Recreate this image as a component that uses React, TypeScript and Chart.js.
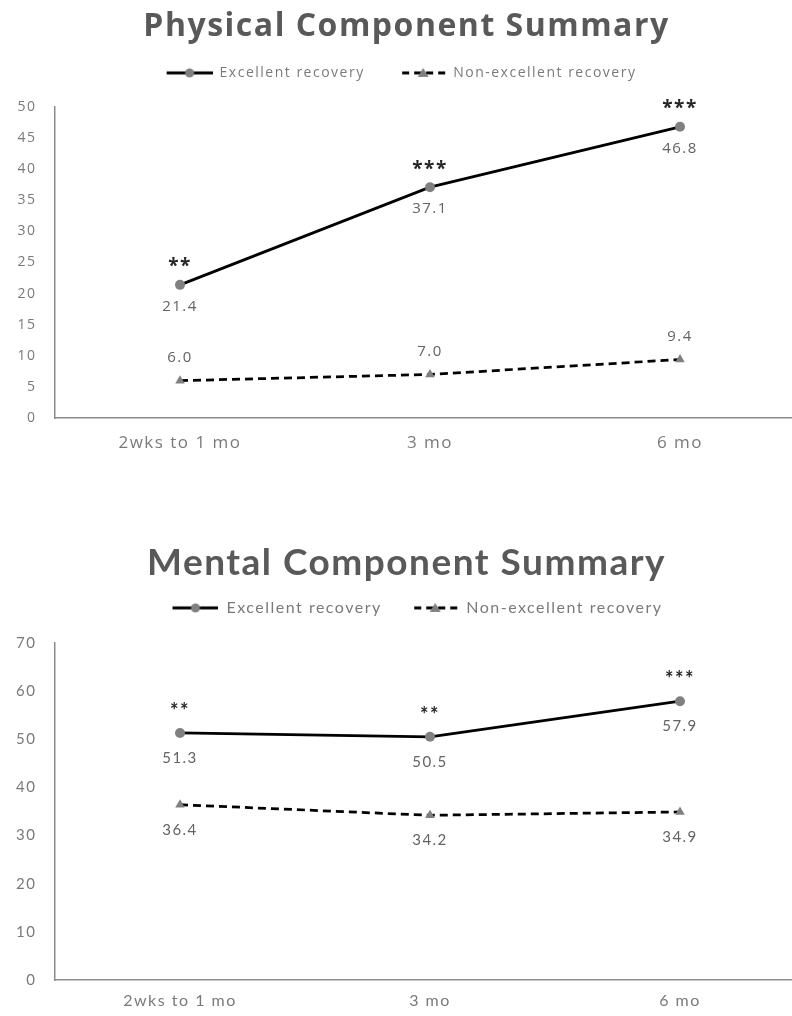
import React, { useEffect, useRef } from "react";
import { Chart, registerables } from "chart.js";

Chart.register(...registerables);

// Time points shared by both panels
const timePoints = ["2wks to 1 mo", "3 mo", "6 mo"];

// Physical Component Summary
const physicalExcellent = [21.4, 37.1, 46.8];
const physicalNonExcellent = [6.0, 7.0, 9.4];
const physicalStars = ["**", "***", "***"];
const physicalTicks = [0, 5, 10, 15, 20, 25, 30, 35, 40, 45, 50];

// Mental Component Summary
const mentalExcellent = [51.3, 50.5, 57.9];
const mentalNonExcellent = [36.4, 34.2, 34.9];
const mentalStars = ["**", "**", "***"];
const mentalTicks = [0, 10, 20, 30, 40, 50, 60, 70];

const seriesNames = ["Excellent recovery", "Non-excellent recovery"];

const MARKER_GRAY = "#808080";
const TITLE_GRAY = "#595959";
const AXIS_TEXT = "#7a7a7a";
const VALUE_TEXT = "#636363";

const SWATCH_MARGIN = 16;
const SWATCH_LINE = 46;

// Legend swatch: a short line with the series marker in the middle
function makeSwatch(dashed: boolean, triangle: boolean): HTMLCanvasElement {
  const c = document.createElement("canvas");
  c.width = SWATCH_MARGIN + SWATCH_LINE;
  c.height = 12;
  const ctx = c.getContext("2d")!;
  const x0 = SWATCH_MARGIN;
  const mid = x0 + SWATCH_LINE / 2;
  ctx.strokeStyle = "#000";
  ctx.lineWidth = 3;
  ctx.setLineDash(dashed ? [7, 5] : []);
  ctx.beginPath();
  ctx.moveTo(x0 + (dashed ? 2 : 0), 6);
  ctx.lineTo(x0 + SWATCH_LINE, 6);
  ctx.stroke();
  ctx.setLineDash([]);
  ctx.fillStyle = MARKER_GRAY;
  ctx.beginPath();
  if (triangle) {
    ctx.moveTo(mid, 1);
    ctx.lineTo(mid + 5.5, 10);
    ctx.lineTo(mid - 5.5, 10);
    ctx.closePath();
  } else {
    ctx.arc(mid, 6, 4.5, 0, Math.PI * 2);
  }
  ctx.fill();
  return c;
}

// Wide lettering for every text drawn on the canvas, extra room under the legend,
// and a small horizontal nudge of the legend row
const textStyle = {
  id: "textStyle",
  beforeLayout(chart: any, _args: any, opts: any) {
    chart.ctx.letterSpacing = `${opts.spacing}px`;
    const lg = chart.legend;
    if (lg && !lg._gapPatched) {
      const fit = lg.fit;
      lg.fit = function () {
        fit.call(this);
        this.height += opts.legendGap;
      };
      lg._gapPatched = true;
    }
  },
  afterLayout(chart: any, _args: any, opts: any) {
    const lg = chart.legend;
    if (lg) {
      lg.left += opts.legendShift;
      lg.right += opts.legendShift;
    }
  },
  beforeDraw(chart: any, _args: any, opts: any) {
    chart.ctx.letterSpacing = `${opts.spacing}px`;
  },
};

// Value labels beside each point, plus significance stars above the first series
const pointNotes = {
  id: "pointNotes",
  afterDatasetsDraw(chart: any, _args: any, opts: any) {
    const ctx = chart.ctx;
    ctx.save();
    ctx.textAlign = "center";
    chart.data.datasets.forEach((ds: any, i: number) => {
      const meta = chart.getDatasetMeta(i);
      const side = opts.sides[i];
      meta.data.forEach((pt: any, j: number) => {
        const v = ds.data[j];
        ctx.font = `${opts.valueSize}px ${opts.family}`;
        ctx.fillStyle = VALUE_TEXT;
        ctx.textBaseline = "middle";
        const dy = side === "below" ? opts.belowGap : -opts.aboveGap;
        ctx.fillText(v.toFixed(1), pt.x, pt.y + dy);
        if (i === 0 && opts.stars[j]) {
          ctx.font = `bold ${opts.starSize}px ${opts.family}`;
          ctx.fillStyle = "#262626";
          ctx.textBaseline = "alphabetic";
          ctx.fillText(opts.stars[j], pt.x, pt.y - opts.starGap);
        }
      });
    });
    ctx.restore();
  },
};

type PanelProps = {
  title: string;
  excellent: number[];
  nonExcellent: number[];
  stars: string[];
  ticks: number[];
  sides: string[];
  family: string;
  height: number;
  top: number;
  titleSize: number;
  titleTop: number;
  legendSize: number;
  legendPad: number;
  legendGap: number;
  legendShift: number;
  yTickSize: number;
  xTickSize: number;
  xTickPad: number;
  xAxisHeight: number;
  valueSize: number;
  starSize: number;
  starGap: number;
  belowGap: number;
  aboveGap: number;
};

function Panel(p: PanelProps) {
  const ref = useRef<HTMLCanvasElement | null>(null);
  useEffect(() => {
    const swatches = [makeSwatch(false, false), makeSwatch(true, true)];
    const chart = new Chart(ref.current!, {
      type: "line",
      data: {
        labels: timePoints,
        datasets: [
          {
            label: seriesNames[0],
            data: p.excellent,
            borderColor: "#000",
            borderWidth: 2.75,
            pointStyle: "circle",
            pointRadius: 5,
            pointBackgroundColor: MARKER_GRAY,
            pointBorderColor: MARKER_GRAY,
            pointBorderWidth: 0,
          },
          {
            label: seriesNames[1],
            data: p.nonExcellent,
            borderColor: "#000",
            borderWidth: 2.75,
            borderDash: [8, 5],
            pointStyle: "triangle",
            pointRadius: 5.5,
            pointBackgroundColor: MARKER_GRAY,
            pointBorderColor: MARKER_GRAY,
            pointBorderWidth: 0,
          },
        ],
      },
      options: {
        animation: false,
        responsive: false,
        layout: { padding: { left: 8, right: 19, top: 0, bottom: 0 } },
        scales: {
          x: {
            type: "category",
            offset: true,
            grid: { display: false, drawTicks: false },
            border: { display: true, color: "#8c8c8c", width: 1.5 },
            ticks: {
              color: AXIS_TEXT,
              font: { family: p.family, size: p.xTickSize },
              padding: p.xTickPad,
              maxRotation: 0,
            },
            afterFit: (s: any) => {
              s.height = p.xAxisHeight;
            },
          },
          y: {
            min: p.ticks[0],
            max: p.ticks[p.ticks.length - 1],
            afterBuildTicks: (s: any) => {
              s.ticks = p.ticks.map((v) => ({ value: v }));
            },
            grid: { display: false, drawTicks: false },
            border: { display: true, color: "#8c8c8c", width: 1.5 },
            ticks: {
              color: AXIS_TEXT,
              font: { family: p.family, size: p.yTickSize },
              padding: 18.5,
            },
            afterFit: (s: any) => {
              s.width = 47;
            },
          },
        },
        plugins: {
          title: {
            display: true,
            text: p.title,
            color: TITLE_GRAY,
            font: { family: p.family, size: p.titleSize, weight: "bold" },
            padding: { top: p.titleTop, bottom: 0 },
          },
          legend: {
            display: true,
            labels: {
              usePointStyle: true,
              pointStyleWidth: SWATCH_MARGIN + SWATCH_LINE,
              padding: p.legendPad,
              color: AXIS_TEXT,
              font: { family: p.family, size: p.legendSize },
              generateLabels: (c: any) =>
                c.data.datasets.map((ds: any, i: number) => ({
                  text: ds.label,
                  pointStyle: swatches[i],
                  fillStyle: MARKER_GRAY,
                  strokeStyle: MARKER_GRAY,
                  lineWidth: 0,
                  hidden: false,
                  datasetIndex: i,
                  fontColor: AXIS_TEXT,
                })),
            },
          },
          tooltip: { enabled: false },
          textStyle: { spacing: 1.5, legendGap: p.legendGap, legendShift: p.legendShift },
          pointNotes: {
            sides: p.sides,
            stars: p.stars,
            family: p.family,
            valueSize: p.valueSize,
            starSize: p.starSize,
            belowGap: p.belowGap,
            aboveGap: p.aboveGap,
            starGap: p.starGap,
          },
        } as any,
      },
      plugins: [textStyle, pointNotes],
    });
    return () => chart.destroy();
  }, []);
  return (
    <canvas
      ref={ref}
      width={824}
      height={p.height}
      style={{ position: "absolute", left: 0, top: p.top, width: 824, height: p.height }}
    />
  );
}

export default function App() {
  return (
    <div
      style={{
        position: "absolute",
        left: 0,
        top: 0,
        width: 792,
        height: 1016,
        overflow: "hidden",
        background: "#fff",
      }}
    >
      <Panel
        title="Physical Component Summary"
        excellent={physicalExcellent}
        nonExcellent={physicalNonExcellent}
        stars={physicalStars}
        ticks={physicalTicks}
        sides={["below", "above"]}
        family="'Open Sans'"
        height={470}
        top={0}
        titleSize={32}
        titleTop={8}
        legendSize={14}
        legendPad={19.5}
        legendGap={17}
        legendShift={-13}
        yTickSize={14}
        xTickSize={17}
        xTickPad={15}
        xAxisHeight={52}
        valueSize={15}
        starSize={19}
        starGap={12.5}
        belowGap={22}
        aboveGap={23}
      />
      <Panel
        title="Mental Component Summary"
        excellent={mentalExcellent}
        nonExcellent={mentalNonExcellent}
        stars={mentalStars}
        ticks={mentalTicks}
        sides={["below", "below"]}
        family="Lato"
        height={486}
        top={530}
        titleSize={37}
        titleTop={11}
        legendSize={16}
        legendPad={14.5}
        legendGap={17}
        legendShift={3}
        yTickSize={15}
        xTickSize={16}
        xTickPad={11}
        xAxisHeight={36}
        valueSize={15}
        starSize={20}
        starGap={15}
        belowGap={25}
        aboveGap={23}
      />
    </div>
  );
}
